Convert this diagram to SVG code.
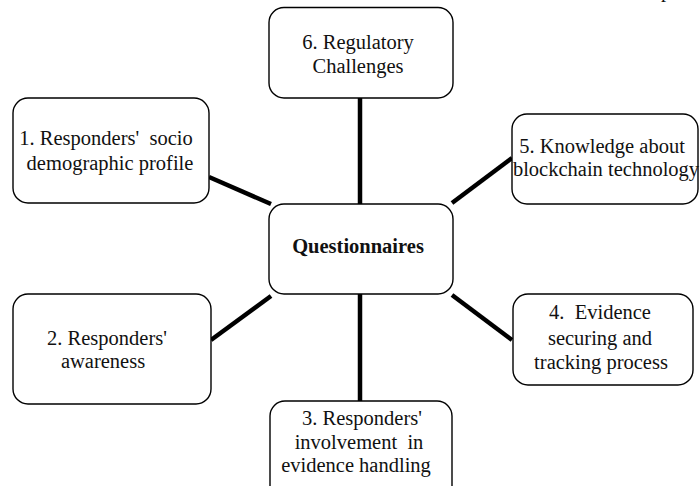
<svg xmlns="http://www.w3.org/2000/svg" width="700" height="486" viewBox="0 0 700 486">
<style>
.box{fill:#fff;stroke:#000;stroke-width:1.4}
.t{font-family:"Liberation Serif","Times New Roman",serif;font-size:20.5px;fill:#111;text-anchor:middle}
.b{font-weight:bold}
.c{stroke:#000;stroke-width:4.5;fill:none}
</style>
<rect width="700" height="486" fill="#fff"/>
<text class="t" x="666" y="-3">p</text>
<g id="connectors">
<line class="c" x1="360" y1="98" x2="360" y2="204"/>
<line class="c" x1="360" y1="294" x2="360" y2="401"/>
<line class="c" x1="209" y1="177" x2="271" y2="204"/>
<line class="c" x1="211" y1="340" x2="271" y2="296"/>
<line class="c" x1="512" y1="158" x2="452" y2="203"/>
<line class="c" x1="452" y1="295" x2="512" y2="340"/>
</g>
<g id="center">
<rect class="box" x="269" y="204" width="184" height="90" rx="15"/>
<text class="t b" x="358" y="253">Questionnaires</text>
</g>
<g id="n6">
<rect class="box" x="269" y="7.5" width="184" height="90.5" rx="15"/>
<text class="t" x="358" y="49">6. Regulatory</text>
<text class="t" x="358" y="73">Challenges</text>
</g>
<g id="n1">
<rect class="box" x="13" y="98" width="196" height="105" rx="15"/>
<text class="t" x="106" y="145" xml:space="preserve">1. Responders'  socio</text>
<text class="t" x="110" y="170">demographic profile</text>
</g>
<g id="n5">
<rect class="box" x="512" y="114" width="186" height="90" rx="15"/>
<text class="t" x="602" y="153">5. Knowledge about</text>
<text class="t" x="606" y="176">blockchain technology</text>
</g>
<g id="n2">
<rect class="box" x="13" y="294" width="198" height="110" rx="15"/>
<text class="t" x="107" y="345">2. Responders'</text>
<text class="t" x="103" y="368">awareness</text>
</g>
<g id="n4">
<rect class="box" x="513" y="294" width="180" height="91" rx="15"/>
<text class="t" x="600" y="319" xml:space="preserve">4.  Evidence</text>
<text class="t" x="600" y="345">securing and</text>
<text class="t" x="601" y="369">tracking process</text>
</g>
<g id="n3">
<rect class="box" x="270" y="401" width="182" height="100" rx="15"/>
<text class="t" x="362" y="425">3. Responders'</text>
<text class="t" x="359" y="449" xml:space="preserve">involvement  in</text>
<text class="t" x="356" y="472">evidence handling</text>
</g>
</svg>
